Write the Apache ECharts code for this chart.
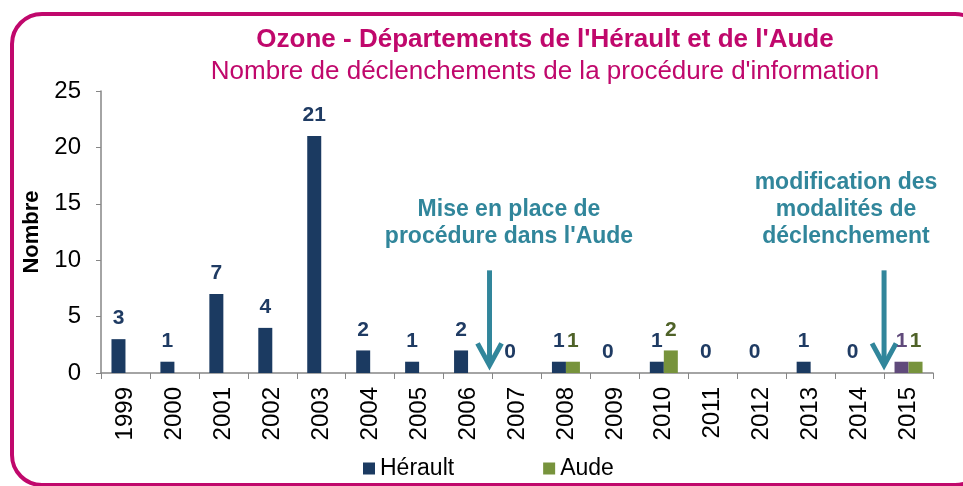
<!DOCTYPE html>
<html lang="fr">
    <head>
        <meta charset="utf-8" />
        <title>Ozone - Hérault et Aude</title>
        <style type="text/css">
            html, body { margin: 0; padding: 0; background: #ffffff; }
            #chart { width: 963px; height: 486px; }
        </style>
    </head>
    <body>
        <div id="chart"></div>

        <script src="https://cdn.jsdelivr.net/npm/echarts@6.0.0/dist/echarts.min.js"></script>
        <script>
            const years = ['1999', '2000', '2001', '2002', '2003', '2004', '2005', '2006', '2007',
                '2008', '2009', '2010', '2011', '2012', '2013', '2014', '2015'];
            const herault = [3, 1, 7, 4, 21, 2, 1, 2, 0, 1, 0, 1, 0, 0, 1, 0, 1];
            const aude = [null, null, null, null, null, null, null, null, null, 1, null, 2, null, null, null, null, 1];
            const yTicks = [0, 5, 10, 15, 20, 25];

            const pink = '#C0086C';
            const teal = '#31869B';
            const navy = '#1B3A61';
            const navyText = '#1F3B63';
            const green = '#77933C';
            const greenText = '#4F6228';
            const purple = '#604A7B';

            // la barre 2015 de l'Hérault est mise en avant en violet
            const heraultData = herault.map((v, i) => {
                if (years[i] === '2015') {
                    return { value: v, itemStyle: { color: purple }, label: { color: purple } };
                }
                return v;
            });

            let chart = echarts.init(document.querySelector('#chart'), null, { renderer: 'canvas' });

            const labelStyle = {
                show: true,
                position: 'top',
                distance: 10,
                fontFamily: 'Liberation Sans, Arial, sans-serif',
                fontWeight: 'bold',
                fontSize: 21
            };

            const option = {
                animation: false,
                textStyle: { fontFamily: 'Liberation Sans, Arial, sans-serif' },
                title: {
                    text: "Ozone - Départements de l'Hérault et de l'Aude",
                    subtext: "Nombre de déclenchements de la procédure d'information",
                    left: 540,
                    top: 22,
                    textAlign: 'center',
                    itemGap: 6,
                    textStyle: { color: pink, fontSize: 26, fontWeight: 'bold' },
                    subtextStyle: { color: pink, fontSize: 26 }
                },
                legend: {
                    bottom: 1,
                    left: 358,
                    itemWidth: 12,
                    itemHeight: 12,
                    itemGap: 89,
                    icon: 'rect',
                    textStyle: { fontSize: 23, color: '#000' },
                    data: ['Hérault', 'Aude']
                },
                grid: { left: 101, right: 30, top: 91, bottom: 113 },
                xAxis: {
                    type: 'category',
                    data: years,
                    axisLine: { lineStyle: { color: '#868686', width: 1.5 } },
                    axisTick: { show: true, length: 6, lineStyle: { color: '#868686' } },
                    axisLabel: { rotate: 90, fontSize: 24, color: '#000', margin: 14 }
                },
                yAxis: {
                    type: 'value',
                    min: yTicks[0],
                    max: yTicks[yTicks.length - 1],
                    interval: 5,
                    name: 'Nombre',
                    nameLocation: 'middle',
                    nameRotate: 90,
                    nameGap: 58,
                    nameTextStyle: { fontSize: 22, fontWeight: 'bold', color: '#000' },
                    axisLine: { show: true, lineStyle: { color: '#868686', width: 1.5 } },
                    axisTick: { show: true, length: 5, lineStyle: { color: '#868686' } },
                    splitLine: { show: false },
                    axisLabel: { fontSize: 24, color: '#000', margin: 20 }
                },
                series: [
                    {
                        name: 'Hérault',
                        type: 'bar',
                        data: heraultData,
                        barWidth: 14,
                        barGap: '0%',
                        itemStyle: { color: navy },
                        label: Object.assign({ color: navyText }, labelStyle)
                    },
                    {
                        name: 'Aude',
                        type: 'bar',
                        data: aude,
                        barWidth: 14,
                        itemStyle: { color: green },
                        label: Object.assign({ color: greenText }, labelStyle)
                    }
                ]
            };

            chart.setOption(option);

            //----- cadre arrondi, flèches et annotations -----//
            const boundaryX = (i) => {
                // frontière entre la catégorie i et i+1
                const a = chart.convertToPixel({ xAxisIndex: 0 }, years[i]);
                const b = chart.convertToPixel({ xAxisIndex: 0 }, years[i + 1]);
                return (a + b) / 2;
            };
            const yPx = (v) => chart.convertToPixel({ yAxisIndex: 0 }, v);

            const arrow = (x) => {
                const top = yPx(9.1);
                const tip = yPx(0.5);
                return [
                    {
                        type: 'line',
                        shape: { x1: x, y1: top, x2: x, y2: tip - 3 },
                        style: { stroke: teal, lineWidth: 5 }
                    },
                    {
                        type: 'polyline',
                        shape: { points: [[x - 12, tip - 24], [x, tip - 2], [x + 12, tip - 24]] },
                        style: { stroke: teal, lineWidth: 5, fill: null, lineJoin: 'miter' }
                    }
                ];
            };

            const note = (x, y, txt) => ({
                type: 'text',
                x: x,
                y: y,
                style: {
                    text: txt,
                    fill: teal,
                    font: 'bold 23px "Liberation Sans", Arial, sans-serif',
                    align: 'center',
                    verticalAlign: 'bottom',
                    lineHeight: 27
                }
            });

            const x1 = boundaryX(7) - 3;
            const x2 = boundaryX(15);

            chart.setOption({
                graphic: [
                    {
                        type: 'rect',
                        shape: { x: 12, y: 14, width: 973, height: 471, r: 30 },
                        style: { fill: null, stroke: pink, lineWidth: 4 },
                        z: -1
                    },
                    ...arrow(x1),
                    ...arrow(x2),
                    note(509, yPx(10.9), "Mise en place de\nprocédure dans l'Aude"),
                    note(846, yPx(10.9), 'modification des\nmodalités de\ndéclenchement')
                ]
            });
        </script>
    </body>
</html>
